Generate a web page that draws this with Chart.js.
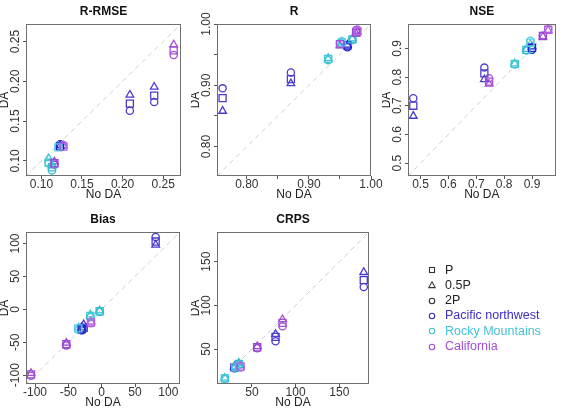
<!DOCTYPE html>
<html><head><meta charset="utf-8">
<script src="https://cdn.jsdelivr.net/npm/chart.js@4.4.1/dist/chart.umd.min.js"></script>
<style>
html,body{margin:0;padding:0;background:#fff;overflow:hidden;width:562px;height:410px;}
canvas{position:absolute;}
#legend{position:absolute;left:0;top:0;width:562px;height:410px;font-family:"Liberation Sans",Arial,Helvetica,sans-serif;font-size:12.5px;}
.row{position:absolute;left:445px;white-space:nowrap;line-height:15px;height:15px;}
.sym{position:absolute;}
</style></head><body>
<div id="wrap"></div>
<div id="legend"></div>
<script>
// ---------------- DATA ----------------
const panelTitles = ['R-RMSE', 'R', 'NSE', 'Bias', 'CRPS'];
const xTitle = 'No DA';
const yTitle = 'DA';
const scenarioNames = ['P', '0.5P', '2P'];
const regionNames = ['Pacific northwest', 'Rocky Mountains', 'California'];
// basin order: PNW1, PNW2, PNW3, RM1, RM2, RM3, CA1, CA2, CA3
const basinRegion = [0, 0, 0, 1, 1, 1, 2, 2, 2];

const rrmseNoDA  = [0.209, 0.239, 0.123, 0.109, 0.113, 0.121, 0.263, 0.116, 0.127];
const rrmseDA_P  = [0.172, 0.182, 0.118, 0.098, 0.092, 0.117, 0.239, 0.097, 0.118];
const rrmseDA_05 = [0.183, 0.193, 0.119, 0.103, 0.094, 0.118, 0.246, 0.099, 0.119];
const rrmseDA_2P = [0.163, 0.174, 0.121, 0.097, 0.088, 0.119, 0.233, 0.095, 0.120];

const rNoDA  = [0.761, 0.871, 0.962, 0.931, 0.970, 0.953, 0.950, 0.976, 0.978];
const rDA_P  = [0.879, 0.910, 0.965, 0.943, 0.975, 0.970, 0.967, 0.986, 0.988];
const rDA_05 = [0.858, 0.903, 0.966, 0.944, 0.976, 0.971, 0.965, 0.984, 0.987];
const rDA_2P = [0.895, 0.921, 0.962, 0.941, 0.974, 0.972, 0.969, 0.990, 0.991];

const nseNoDA  = [0.474, 0.729, 0.900, 0.838, 0.880, 0.894, 0.746, 0.939, 0.958];
const nseDA_P  = [0.700, 0.813, 0.902, 0.846, 0.895, 0.920, 0.784, 0.943, 0.965];
const nseDA_05 = [0.664, 0.792, 0.906, 0.847, 0.897, 0.915, 0.776, 0.941, 0.963];
const nseDA_2P = [0.726, 0.833, 0.895, 0.844, 0.893, 0.927, 0.796, 0.944, 0.967];

const biasNoDA  = [81, -27, -30, -17, -3, -35, -106, -53, -16];
const biasDA_P  = [103, -28, -30, -10, -3, -29, -99, -53, -20];
const biasDA_05 = [98, -23, -28, -8, -2, -28, -97, -51, -19];
const biasDA_2P = [110, -30, -32, -12, -4, -31, -101, -55, -21];

const crpsNoDA  = [178, 77, 30, 19, 35, 31, 85, 56, 37];
const crpsDA_P  = [129, 64, 29, 16.5, 33, 29, 80, 52, 30];
const crpsDA_05 = [138, 67, 30, 17, 34, 30, 84, 53, 31];
const crpsDA_2P = [121, 59, 28, 16, 32, 28, 76, 51, 29];

// axis limits (same for x and y) and ticks
const rrmseLim = [0.081, 0.272];
const rLim = [0.752, 1.0];
const nseLim = [0.455, 0.985];
const biasLim = [-113.5, 117.5];
const crpsLim = [10, 184];

const rrmseTicks = [0.10, 0.15, 0.20, 0.25];
const rrmseTickLabels = ['0.10', '0.15', '0.20', '0.25'];
const rTicks = [0.80, 0.85, 0.90, 0.95, 1.00];
const rTickLabels = ['0.80', '', '0.90', '', '1.00'];
const nseTicks = [0.5, 0.6, 0.7, 0.8, 0.9];
const nseTickLabels = ['0.5', '0.6', '0.7', '0.8', '0.9'];
const biasTicks = [-100, -50, 0, 50, 100];
const biasTickLabels = ['-100', '-50', '0', '50', '100'];
const crpsTicks = [50, 100, 150];
const crpsTickLabels = ['50', '100', '150'];

// ---------------- STYLE / LAYOUT ----------------
const FONT = '"Liberation Sans", Arial, Helvetica, sans-serif';
const regionColors = ['#3b2fc4', '#45c2d5', '#a14fd4'];
const basinColors = ['#4a3acb', '#4f3fd0', '#1f22c9', '#3dc6d6', '#35bcd2', '#55cfe0', '#a44fd6', '#9a44d2', '#b25fe0'];
const scenarioStyles = [
  {pointStyle: 'rect', radius: 5},
  {pointStyle: 'triangle', radius: 4.4},
  {pointStyle: 'circle', radius: 3.6}
];

const panels = [
  {title: panelTitles[0], noDA: rrmseNoDA, da: [rrmseDA_P, rrmseDA_05, rrmseDA_2P], lim: rrmseLim, ticks: rrmseTicks, labels: rrmseTickLabels},
  {title: panelTitles[1], noDA: rNoDA, da: [rDA_P, rDA_05, rDA_2P], lim: rLim, ticks: rTicks, labels: rTickLabels},
  {title: panelTitles[2], noDA: nseNoDA, da: [nseDA_P, nseDA_05, nseDA_2P], lim: nseLim, ticks: nseTicks, labels: nseTickLabels},
  {title: panelTitles[3], noDA: biasNoDA, da: [biasDA_P, biasDA_05, biasDA_2P], lim: biasLim, ticks: biasTicks, labels: biasTickLabels},
  {title: panelTitles[4], noDA: crpsNoDA, da: [crpsDA_P, crpsDA_05, crpsDA_2P], lim: crpsLim, ticks: crpsTicks, labels: crpsTickLabels}
];
const geom = [
  {boxL: 26, boxR: 181, top: 0, padR: 14},
  {boxL: 217, boxR: 371, top: 0, padR: 14},
  {boxL: 408, boxR: 559, top: 0, padR: 3},
  {boxL: 26, boxR: 180, top: 208, padR: 14},
  {boxL: 217, boxR: 369, top: 208, padR: 14}
];
const Y_AXIS_W = 26, X_AXIS_H = 28, TITLE_H = 24, BOX_H = 152, TL = 3;

const measure = document.createElement('canvas').getContext('2d');
measure.font = '12px ' + FONT;

const boxPlugin = {
  id: 'plotBox',
  afterDraw(chart) {
    const {ctx, chartArea: a} = chart;
    ctx.save();
    ctx.strokeStyle = '#707070';
    ctx.lineWidth = 1;
    ctx.strokeRect(Math.round(a.left) + 0.5, Math.round(a.top) + 0.5, Math.round(a.right - a.left) - 1, Math.round(a.bottom - a.top) - 1);
    ctx.restore();
  }
};

function makeScale(p, isY) {
  const widest = Math.max(...p.labels.map(l => measure.measureText(l).width));
  const pad = isY ? (10.5 - TL - widest / 2) : -2;
  return {
    type: 'linear',
    min: p.lim[0], max: p.lim[1],
    afterBuildTicks: s => { s.ticks = p.ticks.map(v => ({value: v})); },
    afterFit: s => { if (isY) s.width = Y_AXIS_W; else s.height = X_AXIS_H; },
    ticks: {
      callback: (v, i) => p.labels[i],
      font: {family: FONT, size: 12},
      color: '#333',
      padding: pad,
      autoSkip: false,
      minRotation: isY ? 90 : 0,
      maxRotation: isY ? 90 : 0,
      crossAlign: isY ? 'center' : 'near'
    },
    grid: {display: true, drawOnChartArea: false, drawTicks: true, tickLength: TL, tickColor: '#555', tickWidth: 1},
    border: {display: false},
    title: {
      display: true, text: isY ? yTitle : xTitle,
      font: {family: FONT, size: 12}, color: '#222',
      padding: isY ? {top: -2.7, bottom: 0} : {top: 0, bottom: 1.8}
    }
  };
}

const wrap = document.getElementById('wrap');
panels.forEach((p, k) => {
  const g = geom[k];
  const left = g.boxL - Y_AXIS_W;
  const width = g.boxR - left + g.padR;
  const height = TITLE_H + BOX_H + X_AXIS_H;
  const cv = document.createElement('canvas');
  cv.width = width; cv.height = height;
  cv.style.left = left + 'px'; cv.style.top = g.top + 'px';
  cv.style.width = width + 'px'; cv.style.height = height + 'px';
  wrap.appendChild(cv);

  const datasets = scenarioStyles.map((st, s) => ({
    label: scenarioNames[s],
    data: p.noDA.map((x, i) => ({x: x, y: p.da[s][i]})),
    pointStyle: st.pointStyle,
    pointRadius: st.radius,
    pointBorderWidth: 1.3,
    pointBorderColor: basinRegion.map((r, i) => basinColors[i]),
    pointBackgroundColor: 'rgba(0,0,0,0)',
    showLine: false,
    order: 0
  }));
  datasets.push({
    label: '1:1',
    data: [{x: p.lim[0], y: p.lim[0]}, {x: p.lim[1], y: p.lim[1]}],
    showLine: true,
    borderColor: '#cfcfcf',
    borderWidth: 1,
    borderDash: [5, 4],
    pointRadius: 0,
    order: 1
  });

  new Chart(cv, {
    type: 'scatter',
    data: {datasets},
    options: {
      responsive: false,
      animation: false,
      events: [],
      layout: {padding: {left: 0, right: g.padR, top: 0, bottom: 0}},
      plugins: {
        legend: {display: false},
        tooltip: {enabled: false},
        title: {
          display: true, text: p.title, fullSize: false,
          font: {family: FONT, size: 12, weight: 'bold'}, color: '#111',
          padding: {top: 4.8, bottom: 4.8}
        }
      },
      scales: {x: makeScale(p, false), y: makeScale(p, true)}
    },
    plugins: [boxPlugin]
  });
});

// ---------------- LEGEND ----------------
const legend = document.getElementById('legend');
const legendItems = [
  {text: scenarioNames[0], color: '#222', shape: 'square', symColor: '#333'},
  {text: scenarioNames[1], color: '#222', shape: 'triangle', symColor: '#333'},
  {text: scenarioNames[2], color: '#222', shape: 'circle', symColor: '#333'},
  {text: regionNames[0], color: regionColors[0], shape: 'circle', symColor: regionColors[0]},
  {text: regionNames[1], color: regionColors[1], shape: 'circle', symColor: regionColors[1]},
  {text: regionNames[2], color: regionColors[2], shape: 'circle', symColor: regionColors[2]}
];
legendItems.forEach((it, i) => {
  const cy = 270 + i * 15.3;
  const row = document.createElement('div');
  row.className = 'row';
  row.style.top = (cy - 7.5) + 'px';
  row.style.color = it.color;
  row.textContent = it.text;
  legend.appendChild(row);
  const ns = 'http://www.w3.org/2000/svg';
  const svg = document.createElementNS(ns, 'svg');
  svg.setAttribute('width', '10'); svg.setAttribute('height', '10');
  svg.setAttribute('class', 'sym');
  svg.style.left = '427px'; svg.style.top = (cy - 5) + 'px';
  let el;
  if (it.shape === 'square') {
    el = document.createElementNS(ns, 'rect');
    el.setAttribute('x', '2.5'); el.setAttribute('y', '2.5'); el.setAttribute('width', '5'); el.setAttribute('height', '5');
  } else if (it.shape === 'triangle') {
    el = document.createElementNS(ns, 'polygon');
    el.setAttribute('points', '5,1.8 8.2,7.6 1.8,7.6');
  } else {
    el = document.createElementNS(ns, 'circle');
    el.setAttribute('cx', '5'); el.setAttribute('cy', '5'); el.setAttribute('r', '2.7');
  }
  el.setAttribute('fill', 'none'); el.setAttribute('stroke', it.symColor); el.setAttribute('stroke-width', '1.1');
  svg.appendChild(el);
  legend.appendChild(svg);
});
</script>
</body></html>
